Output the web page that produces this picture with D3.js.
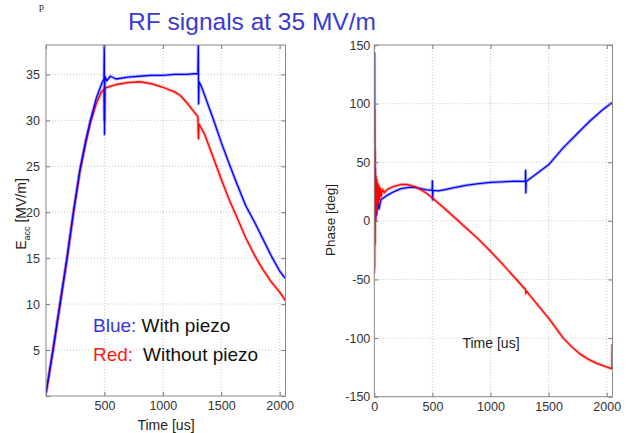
<!DOCTYPE html>
<html>
<head>
<meta charset="utf-8">
<script src="https://cdn.jsdelivr.net/npm/d3@7/dist/d3.min.js"></script>
<style>
  body { margin: 0; background: #fff; }
  svg text { font-family: "Liberation Sans", Arial, sans-serif; }
  .tick text { fill: #333; font-size: 12.5px; }
</style>
</head>
<body>
<div id="chart"></div>
<script>
// Data: [time in us, value]
//=====================================================================
var eaccWithPiezo = [
  [0, 0.3], [60, 5], [120, 10], [180, 15], [235, 20], [290, 24.6], [340, 27.8],
  [380, 30], [430, 32.4], [480, 34.1], [496, 34.5], [499, 38.2], [501, 28.5],
  [504, 34.8], [520, 34.3], [550, 34.8], [600, 34.5], [700, 34.7], [800, 34.8],
  [900, 34.9], [1000, 34.9], [1100, 35.0], [1200, 35.0], [1300, 35.1], [1304, 38.2],
  [1306, 31.8], [1310, 34.2], [1330, 33.7], [1430, 30.2], [1500, 27.6], [1570, 25.2],
  [1640, 22.9], [1710, 20.7], [1790, 18.8], [1860, 17], [1930, 15.2], [2000, 13.6],
  [2048, 12.8]
];
var eaccWithoutPiezo = [
  [0, 0.3], [60, 5], [120, 10], [180, 15], [235, 20], [290, 24.4], [340, 27.5],
  [380, 29.7], [430, 31.8], [470, 33], [497, 33.4], [500, 30], [503, 33.5],
  [550, 33.7], [600, 33.9], [700, 34.1], [800, 34.2], [900, 34.0], [1000, 33.6],
  [1100, 33.1], [1150, 32.7], [1200, 32.0], [1250, 31.2], [1300, 30.4], [1305, 28],
  [1310, 29.6], [1360, 28.4], [1430, 26], [1500, 23.6], [1570, 21.3], [1640, 19.3],
  [1710, 17.2], [1790, 15.2], [1860, 13.7], [1930, 12.4], [2000, 11.3], [2048, 10.4]
];
var phaseWithPiezo = [
  [0, 20], [2, 143], [4, 10], [6, 40], [10, 0], [15, 25], [20, 5], [30, 18],
  [40, 10], [57, 18], [114, 22], [171, 25], [230, 27.5], [300, 28.5], [350, 28.5],
  [400, 27.5], [450, 26.5], [498, 26], [500, 34], [502, 18], [505, 26], [550, 25.5],
  [600, 26.5], [700, 28.5], [800, 30.5], [900, 31.8], [1000, 32.8], [1100, 33.2],
  [1200, 33.8], [1300, 33.6], [1302, 43], [1304, 24], [1307, 33.5], [1365, 37.8],
  [1500, 47.8], [1623, 62], [1737, 73.4], [1851, 84.7], [1965, 94.7], [2048, 101]
];
var phaseWithoutPiezo = [
  [0, -45], [1, 95], [3, -40], [5, 60], [7, -20], [9, 45], [12, 0], [15, 38],
  [18, 8], [22, 35], [26, 12], [30, 32], [35, 15], [40, 30], [46, 18], [52, 28],
  [60, 21], [70, 27], [85, 24], [114, 27], [170, 29.5], [229, 31], [286, 31],
  [343, 29.5], [400, 26.5], [450, 23.5], [500, 19.5], [600, 11], [700, 2],
  [800, -7], [900, -16], [1000, -26], [1100, -36.5], [1200, -47.5], [1290, -57.5],
  [1300, -58], [1305, -62], [1310, -60], [1400, -71], [1500, -83], [1560, -91],
  [1626, -100], [1700, -107.5], [1770, -113.5], [1840, -118], [1914, -121.5],
  [1980, -124], [2040, -126], [2046, -125], [2048, -105]
];

// Tick values
var timeTicks = [0, 500, 1000, 1500, 2000];
var eaccTicks = [0, 5, 10, 15, 20, 25, 30, 35];
var phaseTicks = [-150, -100, -50, 0, 50, 100, 150];

// Set up the svg
//=====================================================================
var svgWidth = 633;
var svgHeight = 433;

var svg = d3.select("#chart")
  .append("svg")
  .attr("width", svgWidth)
  .attr("height", svgHeight);

// one matlab-like panel
function drawPanel(p) {
  var x = d3.scaleLinear().domain(p.xDomain).range([p.left, p.right]);
  var y = d3.scaleLinear().domain(p.yDomain).range([p.bottom, p.top]);
  var g = svg.append("g");

  // dotted grid
  g.selectAll(".vgrid").data(timeTicks.filter(d => d > 0)).enter()
    .append("line")
    .attr("x1", d => x(d)).attr("x2", d => x(d))
    .attr("y1", p.top).attr("y2", p.bottom)
    .attr("stroke", "#b8b8b8").attr("stroke-width", 0.8)
    .attr("stroke-dasharray", "1,2");
  g.selectAll(".hgrid").data(p.yTicks.filter(d => y(d) > p.top + 1 && y(d) < p.bottom - 1)).enter()
    .append("line")
    .attr("x1", p.left).attr("x2", p.right)
    .attr("y1", d => y(d)).attr("y2", d => y(d))
    .attr("stroke", "#b8b8b8").attr("stroke-width", 0.8)
    .attr("stroke-dasharray", "1,2");

  // series, a soft wide stroke for the noise band and a thin one on top
  var line = d3.line().x(d => x(d[0])).y(d => y(d[1]));
  var clipId = "clip" + Math.round(p.left);
  svg.append("clipPath").attr("id", clipId)
    .append("rect").attr("x", p.left).attr("y", p.top)
    .attr("width", p.right - p.left).attr("height", p.bottom - p.top);
  var sg = g.append("g").attr("clip-path", "url(#" + clipId + ")");
  p.series.forEach(function (s) {
    sg.append("path").datum(s.data).attr("d", line)
      .attr("fill", "none").attr("stroke", s.color)
      .attr("stroke-width", 3.2).attr("stroke-opacity", 0.3)
      .attr("stroke-linejoin", "round");
    sg.append("path").datum(s.data).attr("d", line)
      .attr("fill", "none").attr("stroke", s.color)
      .attr("stroke-width", 1.3).attr("stroke-linejoin", "round");
  });

  // axes with inward ticks
  var bottomAxis = d3.axisBottom(x).tickValues(timeTicks)
    .tickSizeInner(-4).tickSizeOuter(0).tickPadding(5)
    .tickFormat(d => (p.hideZeroX && d === 0) ? "" : d);
  var topAxis = d3.axisTop(x).tickValues(timeTicks)
    .tickSizeInner(-4).tickSizeOuter(0).tickFormat("");
  var leftAxis = d3.axisLeft(y).tickValues(p.yTicks)
    .tickSizeInner(-4).tickSizeOuter(0).tickPadding(p.yPad)
    .tickFormat(d => (p.hideZeroY && d === 0) ? "" : d);
  var rightAxis = d3.axisRight(y).tickValues(p.yTicks)
    .tickSizeInner(-4).tickSizeOuter(0).tickFormat("");

  g.append("g").attr("transform", `translate(0, ${p.bottom})`).call(bottomAxis);
  g.append("g").attr("transform", `translate(0, ${p.top})`).call(topAxis);
  g.append("g").attr("transform", `translate(${p.left}, 0)`).call(leftAxis);
  g.append("g").attr("transform", `translate(${p.right}, 0)`).call(rightAxis);
  g.selectAll(".domain").remove();
  g.selectAll(".tick line").attr("stroke", "#777");

  g.append("rect")
    .attr("x", p.left).attr("y", p.top)
    .attr("width", p.right - p.left).attr("height", p.bottom - p.top)
    .attr("fill", "none").attr("stroke", "#888").attr("stroke-width", 1);
}

drawPanel({
  left: 46, right: 285.5, top: 45, bottom: 396,
  xDomain: [0, 2050], yDomain: [0, 38.2],
  yTicks: eaccTicks, yPad: 6, hideZeroX: true, hideZeroY: true,
  series: [
    { data: eaccWithoutPiezo, color: "#ff0000" },
    { data: eaccWithPiezo, color: "#0000ff" }
  ]
});

drawPanel({
  left: 374.3, right: 612.5, top: 45, bottom: 396.7,
  xDomain: [0, 2050], yDomain: [-150, 150],
  yTicks: phaseTicks, yPad: 4,
  series: [
    { data: phaseWithPiezo, color: "#0000ff" },
    { data: phaseWithoutPiezo, color: "#ff0000" }
  ]
});

// Title and labels
//=====================================================================
svg.append("text")
  .attr("x", 252).attr("y", 30)
  .attr("text-anchor", "middle")
  .style("font-size", "24.5px")
  .style("fill", "#3a3ad2")
  .text("RF signals at 35 MV/m");

// small glyph at the top edge
svg.append("text")
  .attr("x", 39).attr("y", 10)
  .style("font-family", "'Liberation Serif', serif")
  .style("font-size", "10px")
  .style("fill", "#222")
  .text("p");

var yLab = svg.append("text")
  .attr("transform", "translate(26, 214) rotate(-90)")
  .attr("text-anchor", "middle")
  .style("font-size", "14px")
  .style("fill", "#222");
yLab.append("tspan").text("E");
yLab.append("tspan").attr("dy", 4).style("font-size", "9px").text("acc");
yLab.append("tspan").attr("dy", -4).text(" [MV/m]");

svg.append("text")
  .attr("transform", "translate(335, 220) rotate(-90)")
  .attr("text-anchor", "middle")
  .style("font-size", "13.5px")
  .style("fill", "#222")
  .text("Phase [deg]");

svg.append("text")
  .attr("x", 166).attr("y", 430)
  .attr("text-anchor", "middle")
  .style("font-size", "14px")
  .style("fill", "#222")
  .text("Time [us]");

svg.append("text")
  .attr("x", 491).attr("y", 348)
  .attr("text-anchor", "middle")
  .style("font-size", "14px")
  .style("fill", "#222")
  .text("Time [us]");

// legend text
var leg1 = svg.append("text").attr("x", 93).attr("y", 332).style("font-size", "19px");
leg1.append("tspan").style("fill", "#3434e6").text("Blue:");
leg1.append("tspan").style("fill", "#111").text(" With piezo");

var leg2 = svg.append("text").attr("x", 93).attr("y", 361).style("font-size", "19px");
leg2.append("tspan").style("fill", "#ff1a1a").text("Red:");
leg2.append("tspan").attr("x", 143).style("fill", "#111").text("Without piezo");
</script>
</body>
</html>
